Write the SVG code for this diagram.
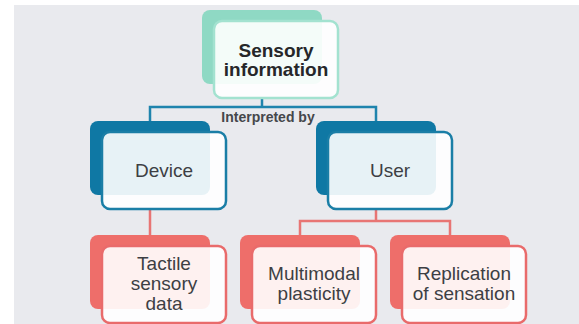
<svg xmlns="http://www.w3.org/2000/svg" width="579" height="324" viewBox="0 0 579 324">
<style>
.back{stroke:none}
.front{fill:#ffffff;fill-opacity:0.9;stroke-width:2.5}
.teal .back{fill:#8fd9c4}
.teal .front{stroke:#a3e2d0}
.blue .back{fill:#0f78a4}
.blue .front{stroke:#1a7ea6}
.red .back{fill:#ee6e6a}
.red .front{stroke:#e96b6b}
text{font-family:"Liberation Sans",Arial,sans-serif;text-anchor:middle;fill:#3d3f44;font-size:19px}
.title{font-weight:bold;fill:#262729}
.lbl{font-size:14px;font-weight:bold;fill:#45474b}
.cb{fill:none;stroke:#1f84ad;stroke-width:2.5}
.cr{fill:none;stroke:#e87574;stroke-width:2.5}
</style>
<rect x="0" y="0" width="579" height="324" fill="#ffffff"/>
<rect x="14" y="5" width="565" height="319" fill="#e9eaee"/>
<g id="connectors">
<path class="cb" d="M262,98 V107 M150,121 V107 H376 V121"/>
<path class="cr" d="M150,209 V235 M376,209 V221 M300,235 V221 H450 V235"/>
<text class="lbl" x="268" y="122">Interpreted by</text>
</g>
<g id="sensory" class="teal">
<rect class="back" x="202" y="10" width="120" height="74" rx="8"/>
<rect class="front" x="214" y="21" width="124" height="77" rx="8"/>
<text class="title" x="276" y="57">Sensory</text>
<text class="title" x="276" y="76">information</text>
</g>
<g id="device" class="blue">
<rect class="back" x="90" y="121" width="120" height="74" rx="8"/>
<rect class="front" x="102" y="132" width="124" height="77" rx="8"/>
<text x="164" y="177">Device</text>
</g>
<g id="user" class="blue">
<rect class="back" x="316" y="121" width="120" height="74" rx="8"/>
<rect class="front" x="328" y="132" width="124" height="77" rx="8"/>
<text x="390" y="177">User</text>
</g>
<g id="tactile" class="red">
<rect class="back" x="90" y="235" width="120" height="74" rx="8"/>
<rect class="front" x="102" y="246" width="124" height="77" rx="8"/>
<text x="164" y="270">Tactile</text>
<text x="164" y="290">sensory</text>
<text x="164" y="310">data</text>
</g>
<g id="multimodal" class="red">
<rect class="back" x="240" y="235" width="120" height="74" rx="8"/>
<rect class="front" x="252" y="246" width="124" height="77" rx="8"/>
<text x="314" y="280">Multimodal</text>
<text x="314" y="300">plasticity</text>
</g>
<g id="replication" class="red">
<rect class="back" x="390" y="235" width="120" height="74" rx="8"/>
<rect class="front" x="402" y="246" width="124" height="77" rx="8"/>
<text x="464" y="280">Replication</text>
<text x="464" y="300">of sensation</text>
</g>
</svg>
